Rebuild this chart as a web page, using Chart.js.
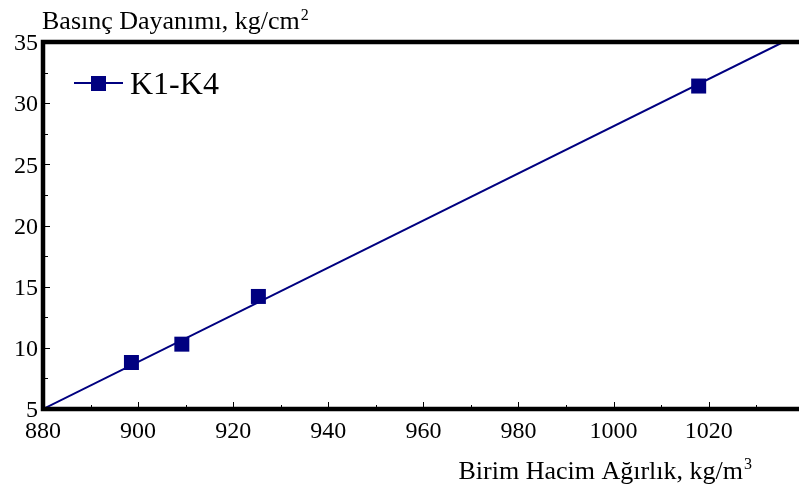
<!DOCTYPE html>
<html>
<head>
<meta charset="utf-8">
<script src="https://cdn.jsdelivr.net/npm/chart.js@4.4.0/dist/chart.umd.min.js"></script>
<style>
  html, body { margin: 0; padding: 0; background: #fff; }
  #wrap { width: 799px; height: 493px; }
</style>
</head>
<body>
<div id="wrap"><canvas id="myChart" width="799" height="493"></canvas></div>
<script>
// dados
const seriesName = 'K1-K4';
const birimHacim = [898.6, 909.2, 925.3, 1017.9];
const basinc = [8.8, 10.3, 14.2, 31.4];
// reta de ajuste (extremos)
const fitX = [880, 1035.7];
const fitY = [5, 35];
const yTicks = [5, 10, 15, 20, 25, 30, 35];
const xTicks = [880, 900, 920, 940, 960, 980, 1000, 1020];

const navy = '#000080';
const serif = '"Liberation Serif", "Times New Roman", serif';

// desenha eixos grossos, ticks internos, titulos e legenda
const decor = {
    id: 'decor',
    afterDraw(chart) {
        const ctx = chart.ctx;
        const a = chart.chartArea;
        const xs = chart.scales.x, ys = chart.scales.y;
        ctx.save();
        ctx.strokeStyle = '#000';
        ctx.lineCap = 'butt';

        // ticks internos
        ctx.lineWidth = 1;
        for (let v = 890; v <= 1030; v += 10) {
            const px = Math.round(xs.getPixelForValue(v)) + 0.5;
            const len = (v % 20 === 0) ? 7 : 4;
            ctx.beginPath();
            ctx.moveTo(px, a.bottom);
            ctx.lineTo(px, a.bottom - len);
            ctx.stroke();
        }
        for (let v = 7.5; v < 35; v += 2.5) {
            const py = Math.round(ys.getPixelForValue(v)) + 0.5;
            const len = (v % 5 === 0) ? 7 : 5;
            ctx.beginPath();
            ctx.moveTo(a.left, py);
            ctx.lineTo(a.left + len, py);
            ctx.stroke();
        }

        // eixos
        ctx.lineWidth = 4.5;
        ctx.beginPath();
        ctx.moveTo(a.right, a.top);
        ctx.lineTo(a.left, a.top);
        ctx.lineTo(a.left, a.bottom);
        ctx.lineTo(a.right, a.bottom);
        ctx.stroke();

        // titulos
        ctx.fillStyle = '#000';
        ctx.textBaseline = 'alphabetic';
        ctx.textAlign = 'left';
        ctx.font = '26px ' + serif;
        let t = 'Basınç Dayanımı, kg/cm';
        ctx.fillText(t, 42, 29);
        let w = ctx.measureText(t).width;
        ctx.font = '16px ' + serif;
        ctx.fillText('2', 42 + w + 1, 20);

        ctx.font = '26px ' + serif;
        t = 'Birim Hacim Ağırlık, kg/m';
        w = ctx.measureText(t).width;
        const x0 = 743 - w;
        ctx.fillText(t, x0, 479);
        ctx.font = '16px ' + serif;
        ctx.fillText('3', x0 + w + 1, 469);

        // legenda
        ctx.strokeStyle = navy;
        ctx.lineWidth = 2;
        ctx.beginPath();
        ctx.moveTo(74, 83);
        ctx.lineTo(123, 83);
        ctx.stroke();
        ctx.fillStyle = navy;
        ctx.fillRect(91, 76, 15, 15);
        ctx.fillStyle = '#000';
        ctx.font = '32px ' + serif;
        ctx.fillText(seriesName, 130, 94);
        ctx.restore();
    }
};

const chart = new Chart(document.getElementById('myChart').getContext('2d'), {
    type: 'scatter',
    data: {
        datasets: [{
            label: 'fit',
            data: fitX.map((x, i) => ({ x: x, y: fitY[i] })),
            showLine: true,
            borderColor: navy,
            borderWidth: 2,
            pointRadius: 0
        }, {
            label: seriesName,
            data: birimHacim.map((x, i) => ({ x: x, y: basinc[i] })),
            showLine: false,
            pointStyle: 'rect',
            pointRadius: 10.6,
            backgroundColor: navy,
            borderColor: navy,
            borderWidth: 0
        }]
    },
    options: {
        responsive: false,
        animation: false,
        layout: { autoPadding: false, padding: { top: 42, right: 0, left: 0, bottom: 0 } },
        plugins: { legend: { display: false }, tooltip: { enabled: false } },
        scales: {
            x: {
                type: 'linear',
                min: 880,
                max: 1039,
                afterBuildTicks(s) { s.ticks = xTicks.map(v => ({ value: v })); },
                afterFit(s) { s.height = 84; s.paddingLeft = 0; s.paddingRight = 0; },
                grid: { display: false, drawTicks: false },
                border: { display: false },
                ticks: {
                    padding: 8, color: '#000', font: { family: serif, size: 24 },
                    callback: v => String(v)
                }
            },
            y: {
                min: 5,
                max: 35,
                afterBuildTicks(s) { s.ticks = yTicks.map(v => ({ value: v })); },
                afterFit(s) { s.width = 43; s.paddingTop = 0; s.paddingBottom = 0; },
                grid: { display: false, drawTicks: false },
                border: { display: false },
                ticks: {
                    padding: 5, labelOffset: 2, color: '#000', font: { family: serif, size: 24 },
                    callback: v => String(v)
                }
            }
        }
    },
    plugins: [decor]
});
</script>
</body>
</html>
